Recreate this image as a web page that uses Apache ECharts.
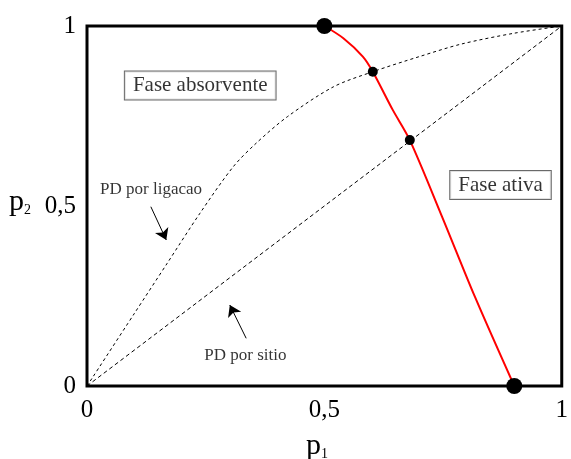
<!DOCTYPE html>
<html><head><meta charset="utf-8">
<script src="https://cdn.jsdelivr.net/npm/echarts@6/dist/echarts.min.js"></script>
<style>html,body{margin:0;padding:0;background:#fff}#c{width:571px;height:459px}</style>
</head><body><div id="c"></div>
<script>
const tickValues = [0, 0.5, 1];
const tickLabels = ['0', '0,5', '1'];
const siteLine = [[0, 0], [1, 1]];
const bondCurve = [[0, 0], [0.1, 0.202], [0.169, 0.341], [0.238, 0.480], [0.308, 0.609], [0.356, 0.674], [0.422, 0.748], [0.519, 0.831], [0.602, 0.873], [0.70, 0.915], [0.789, 0.950], [0.9, 0.980], [1, 1]];
const transitionLine = [[0.5, 1], [0.540, 0.966], [0.581, 0.915], [0.602, 0.873], [0.644, 0.767], [0.680, 0.683], [0.748, 0.470], [0.817, 0.248], [0.9, 0]];
const endPoints = [[0.5, 1], [0.9, 0]];
const crossPoints = [[0.602, 0.873], [0.680, 0.683]];
const phaseLabels = [{name: 'Fase absorvente', value: [0.2385, 0.8347]}, {name: 'Fase ativa', value: [0.871, 0.558]}];
const curveLabels = [{name: 'PD por ligacao', value: [0.135, 0.547]}, {name: 'PD por sitio', value: [0.3337, 0.086]}];
const arrows = [[[0.1345, 0.498], [0.167, 0.4056]], [[0.3353, 0.1325], [0.3008, 0.225]]];

const FONT = 'Liberation Serif';
const chart = echarts.init(document.getElementById('c'), null, {renderer: 'canvas'});
const axisCommon = {
  type: 'value', min: 0, max: 1, interval: 0.5,
  axisLine: {show: false}, axisTick: {show: false}, splitLine: {show: false},
  axisLabel: {
    formatter: v => tickLabels[tickValues.indexOf(v)],
    fontSize: 25, color: '#000', fontFamily: FONT, margin: 11
  }
};
chart.setOption({
  animation: false,
  backgroundColor: '#fff',
  grid: {left: 87, right: 3, top: 26, bottom: 73, show: true, borderColor: '#000', borderWidth: 3},
  xAxis: Object.assign({}, axisCommon, {axisLabel: Object.assign({}, axisCommon.axisLabel, {margin: 12})}),
  yAxis: axisCommon,
  graphic: [
    {type: 'text', left: 306, top: 431, style: {text: '{p|p}{s|1}', rich: {p: {fontSize: 30, fontFamily: FONT, fill: '#000'}, s: {fontSize: 14, fontFamily: FONT, fill: '#000', verticalAlign: 'bottom'}}}},
    {type: 'text', left: 9, top: 187, style: {text: '{p|p}{s|2}', rich: {p: {fontSize: 30, fontFamily: FONT, fill: '#000'}, s: {fontSize: 14, fontFamily: FONT, fill: '#000', verticalAlign: 'bottom'}}}}
  ],
  series: [
    {type: 'line', data: siteLine, symbol: 'none', clip: false, lineStyle: {color: '#000', width: 1, type: [4, 3]}, z: 2},
    {type: 'line', data: bondCurve, symbol: 'none', smooth: 0.3, clip: false, lineStyle: {color: '#000', width: 1, type: [3, 3]}, z: 2},
    {type: 'line', data: transitionLine, symbol: 'none', smooth: 0.3, clip: false, lineStyle: {color: '#ff0000', width: 2}, z: 3},
    {type: 'scatter', data: endPoints, symbolSize: 16, clip: false, itemStyle: {color: '#000', opacity: 1}, z: 4},
    {type: 'scatter', data: crossPoints, symbolSize: 10, clip: false, itemStyle: {color: '#000', opacity: 1}, z: 4},
    {type: 'lines', coordinateSystem: 'cartesian2d', data: arrows.map(a => ({coords: a})), symbol: ['none', 'arrow'], symbolSize: [7, 11], lineStyle: {color: '#000', width: 1, opacity: 1}, z: 4},
    {type: 'scatter', data: phaseLabels, symbolSize: 1, itemStyle: {color: 'rgba(0,0,0,0)'}, z: 5,
      label: {show: true, position: 'inside', formatter: p => p.name, fontFamily: FONT, fontSize: 21, color: '#000', backgroundColor: '#fff', borderColor: '#444', borderWidth: 1, padding: [4, 8, 3, 8]}},
    {type: 'scatter', data: curveLabels, symbolSize: 1, itemStyle: {color: 'rgba(0,0,0,0)'}, z: 5,
      label: {show: true, position: 'inside', formatter: p => p.name, fontFamily: FONT, fontSize: 17, color: '#000'}}
  ]
});
</script></body></html>
